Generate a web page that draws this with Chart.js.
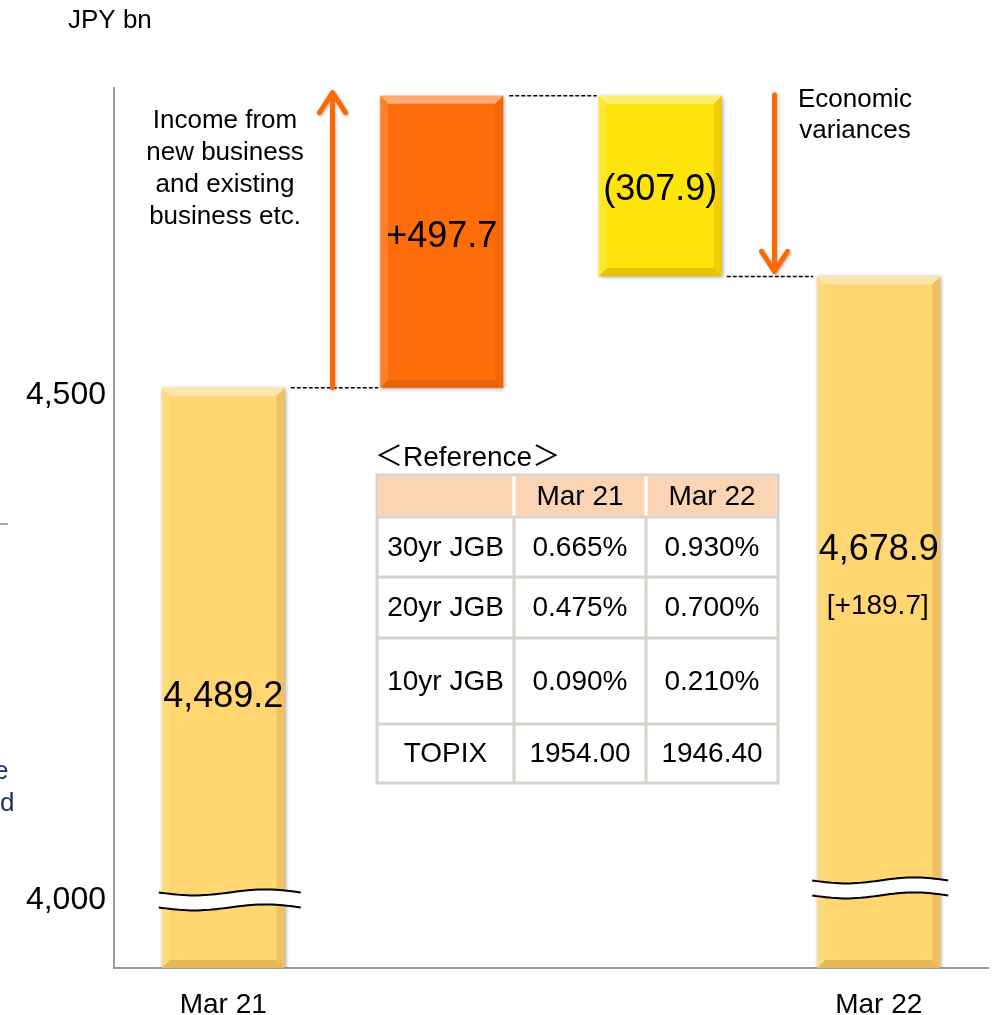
<!DOCTYPE html>
<html>
<head>
  <title>Net income bridge</title>
  <script src="https://cdn.jsdelivr.net/npm/chart.js"></script>
  <style>
    body { margin: 0; background: #fff; }
    canvas { display: block; }
  </style>
</head>
<body>
  <canvas id="bridgeChart" width="992" height="1015"></canvas>
  <script>
    // values (JPY bn)
    const categories = ['Mar 21', '', '', 'Mar 22'];
    const startValue = 4489.2;
    const incomeChange = 497.7;
    const economicChange = -307.9;
    const endValue = 4678.9;

    // broken axis: where the two labels sit on the drawn scale
    const yTickValues = [3616, 4477];
    const yTickLabels = ['4,000', '4,500'];

    // reference table
    const refHeader = ['', 'Mar 21', 'Mar 22'];
    const refRows = ['30yr JGB', '20yr JGB', '10yr JGB', 'TOPIX'];
    const refMar21 = ['0.665%', '0.475%', '0.090%', '1954.00'];
    const refMar22 = ['0.930%', '0.700%', '0.210%', '1946.40'];

    const incomeNote = ['Income from', 'new business', 'and existing', 'business etc.'];
    const economicNote = ['Economic', 'variances'];

    const FONT = '"Liberation Sans", Arial, sans-serif';
    Chart.defaults.font.family = FONT;
    Chart.defaults.color = '#000';

    const axisMin = 3500;
    const axisMax = 5000;
    const peak = startValue + incomeChange;
    const barRanges = [
      [axisMin, startValue],
      [startValue, peak],
      [peak + economicChange, peak],
      [axisMin, endValue]
    ];
    const barColors = ['#FFD66F', '#FF6D0A', '#FFE40C', '#FFD66F'];

    function fmt(v) {
      return v.toLocaleString('en-US', { minimumFractionDigits: 1, maximumFractionDigits: 1 });
    }
    const valueLabels = [
      fmt(startValue),
      '+' + fmt(incomeChange),
      '(' + fmt(Math.abs(economicChange)) + ')',
      fmt(endValue)
    ];
    const endDiffLabel = '[+' + fmt(endValue - startValue) + ']';
    const labelDy = [309, 141, 94, 274];

    function poly(ctx, pts, color) {
      ctx.beginPath();
      ctx.moveTo(pts[0][0], pts[0][1]);
      for (let i = 1; i < pts.length; i++) ctx.lineTo(pts[i][0], pts[i][1]);
      ctx.closePath();
      ctx.fillStyle = color;
      ctx.fill();
    }

    function bevel(ctx, l, t, r, b, s) {
      poly(ctx, [[l, t], [r, t], [r - s, t + s], [l + s, t + s]], 'rgba(255,255,255,0.42)');
      poly(ctx, [[l, b], [r, b], [r - s, b - s], [l + s, b - s]], 'rgba(150,70,0,0.22)');
      poly(ctx, [[l, t], [l + s, t + s], [l + s, b - s], [l, b]], 'rgba(255,255,255,0.12)');
      poly(ctx, [[r, t], [r - s, t + s], [r - s, b - s], [r, b]], 'rgba(150,70,0,0.14)');
    }

    function wave(ctx, l, r, yc) {
      const amp = 3;
      const half = 7.5;
      const path = (off, dir) => {
        const pts = [];
        for (let i = 0; i <= 40; i++) {
          const x = l + (r - l) * i / 40;
          pts.push([x, yc + off + amp * Math.sin(2 * Math.PI * i / 40)]);
        }
        return dir ? pts : pts.reverse();
      };
      const top = path(-half, true);
      const bottom = path(half, false);
      poly(ctx, top.concat(bottom), '#fff');
      ctx.strokeStyle = '#000';
      ctx.lineWidth = 2;
      [path(-half, true), path(half, true)].forEach(pts => {
        ctx.beginPath();
        pts.forEach((p, i) => i ? ctx.lineTo(p[0], p[1]) : ctx.moveTo(p[0], p[1]));
        ctx.stroke();
      });
    }

    function arrow(ctx, x, y1, y2) {
      const dir = y2 < y1 ? 1 : -1;
      ctx.save();
      ctx.strokeStyle = '#FF6A00';
      ctx.lineWidth = 5;
      ctx.lineCap = 'round';
      ctx.lineJoin = 'round';
      ctx.shadowColor = 'rgba(0,0,0,0.3)';
      ctx.shadowBlur = 3;
      ctx.shadowOffsetX = 1;
      ctx.shadowOffsetY = 1;
      ctx.beginPath();
      ctx.moveTo(x, y1);
      ctx.lineTo(x, y2);
      ctx.moveTo(x - 13, y2 + dir * 20);
      ctx.lineTo(x, y2);
      ctx.lineTo(x + 13, y2 + dir * 20);
      ctx.stroke();
      ctx.restore();
    }

    function dashed(ctx, x1, x2, y) {
      ctx.save();
      ctx.strokeStyle = '#000';
      ctx.lineWidth = 1.5;
      ctx.setLineDash([4, 2]);
      ctx.beginPath();
      ctx.moveTo(x1, y);
      ctx.lineTo(x2, y);
      ctx.stroke();
      ctx.restore();
    }

    const barShadow = {
      id: 'barShadow',
      beforeDatasetsDraw(chart) {
        const ctx = chart.ctx;
        ctx.save();
        ctx.shadowColor = 'rgba(0,0,0,0.35)';
        ctx.shadowBlur = 4;
        ctx.shadowOffsetX = 1;
        ctx.shadowOffsetY = 1;
      },
      afterDatasetsDraw(chart) {
        chart.ctx.restore();
      }
    };

    const decorations = {
      id: 'decorations',
      afterDraw(chart) {
        const ctx = chart.ctx;
        const xs = chart.scales.x;
        const ys = chart.scales.y;
        const bars = chart.getDatasetMeta(0).data;
        const edges = bars.map(b => ({ l: b.x - b.width / 2, r: b.x + b.width / 2, t: Math.min(b.y, b.base), b: Math.max(b.y, b.base) }));

        edges.forEach(e => bevel(ctx, e.l, e.t, e.r, e.b, 8));

        // axis breaks on the two totals
        const breakY = ys.getPixelForValue(yTickValues[0]);
        wave(ctx, edges[0].l - 3, edges[0].r + 16, breakY);
        wave(ctx, edges[3].l - 5, edges[3].r + 8, breakY - 12);

        // connectors
        dashed(ctx, edges[0].r + 6, edges[1].l - 2, ys.getPixelForValue(startValue));
        dashed(ctx, edges[1].r + 6, edges[2].l - 2, ys.getPixelForValue(peak));
        dashed(ctx, edges[2].r + 5, edges[3].l - 4, ys.getPixelForValue(endValue));

        arrow(ctx, xs.getPixelForValue(0.5), ys.getPixelForValue(startValue), ys.getPixelForValue(peak) - 3);
        arrow(ctx, xs.getPixelForValue(2.5) + 5, ys.getPixelForValue(peak) - 1, ys.getPixelForValue(endValue) - 5);

        ctx.save();
        ctx.fillStyle = '#000';
        ctx.textAlign = 'center';
        ctx.textBaseline = 'middle';

        ctx.font = '36px ' + FONT;
        bars.forEach((b, i) => ctx.fillText(valueLabels[i], b.x, edges[i].t + labelDy[i]));
        ctx.font = '28px ' + FONT;
        ctx.fillText(endDiffLabel, bars[3].x - 1, edges[3].t + 330);

        ctx.font = '26px ' + FONT;
        incomeNote.forEach((s, i) => ctx.fillText(s, 225, 121 + i * 32));
        economicNote.forEach((s, i) => ctx.fillText(s, 855, 100 + i * 31));

        ctx.textAlign = 'left';
        ctx.fillText('JPY bn', 68, 21);

        // leftover edge of the neighbouring panel
        ctx.fillStyle = '#1F2F6B';
        ctx.fillText('e', -6, 772);
        ctx.fillText('d', 0, 804);
        ctx.strokeStyle = '#8c8c8c';
        ctx.lineWidth = 1.5;
        ctx.beginPath();
        ctx.moveTo(0, 524);
        ctx.lineTo(8, 524);
        ctx.stroke();

        drawTable(ctx);
        ctx.restore();
      }
    };

    function drawTable(ctx) {
      const cols = [377, 514, 646, 778];
      const rows = [475, 517, 577, 638, 724, 783];
      const line = '#D8D4CC';

      ctx.fillStyle = '#000';
      ctx.textAlign = 'left';
      ctx.font = '28px ' + FONT + ', "Noto Sans CJK JP"';
      ctx.fillText('\uFF1CReference\uFF1E', 375, 458);

      ctx.fillStyle = '#FBD4B4';
      for (let c = 0; c < 3; c++) ctx.fillRect(cols[c] + 1.5, rows[0] + 1.5, cols[c + 1] - cols[c] - 3, rows[1] - rows[0] - 3);

      ctx.strokeStyle = line;
      ctx.lineWidth = 3;
      ctx.strokeRect(cols[0], rows[0], cols[3] - cols[0], rows[5] - rows[0]);
      ctx.beginPath();
      for (let r = 1; r < 5; r++) { ctx.moveTo(cols[0], rows[r]); ctx.lineTo(cols[3], rows[r]); }
      for (let c = 1; c < 3; c++) { ctx.moveTo(cols[c], rows[1]); ctx.lineTo(cols[c], rows[5]); }
      ctx.stroke();
      ctx.strokeStyle = '#fff';
      ctx.beginPath();
      for (let c = 1; c < 3; c++) { ctx.moveTo(cols[c], rows[0] + 1.5); ctx.lineTo(cols[c], rows[1] - 1.5); }
      ctx.stroke();

      ctx.fillStyle = '#000';
      ctx.textAlign = 'center';
      ctx.textBaseline = 'middle';
      ctx.font = '28px ' + FONT;
      const cx = c => (cols[c] + cols[c + 1]) / 2;
      const cy = r => (rows[r] + rows[r + 1]) / 2 + 1;
      refHeader.forEach((s, c) => ctx.fillText(s, cx(c), cy(0)));
      refRows.forEach((s, r) => {
        ctx.fillText(s, cx(0), cy(r + 1));
        ctx.fillText(refMar21[r], cx(1), cy(r + 1));
        ctx.fillText(refMar22[r], cx(2), cy(r + 1));
      });
    }

    new Chart(document.getElementById('bridgeChart'), {
      type: 'bar',
      data: {
        labels: categories,
        datasets: [{
          data: barRanges,
          backgroundColor: barColors,
          borderWidth: 0,
          barPercentage: 0.563,
          categoryPercentage: 1
        }]
      },
      options: {
        responsive: false,
        animation: false,
        layout: { padding: { top: 88, right: 4, left: 0, bottom: 0 } },
        plugins: { legend: { display: false }, tooltip: { enabled: false } },
        scales: {
          x: {
            grid: { display: false, drawTicks: false },
            border: { color: '#9a9a9a', width: 2 },
            ticks: { font: { size: 28 }, color: '#000', padding: 20, maxRotation: 0 },
            afterFit(s) { s.height = 47; }
          },
          y: {
            min: axisMin,
            max: axisMax,
            grid: { display: false, drawTicks: false },
            border: { color: '#9a9a9a', width: 2 },
            ticks: {
              font: { size: 32 },
              color: '#000',
              padding: 8,
              callback: (v) => yTickLabels[yTickValues.indexOf(v)]
            },
            afterBuildTicks(s) { s.ticks = yTickValues.map(v => ({ value: v })); },
            afterFit(s) { s.width = 114; }
          }
        }
      },
      plugins: [barShadow, decorations]
    });
  </script>
</body>
</html>
